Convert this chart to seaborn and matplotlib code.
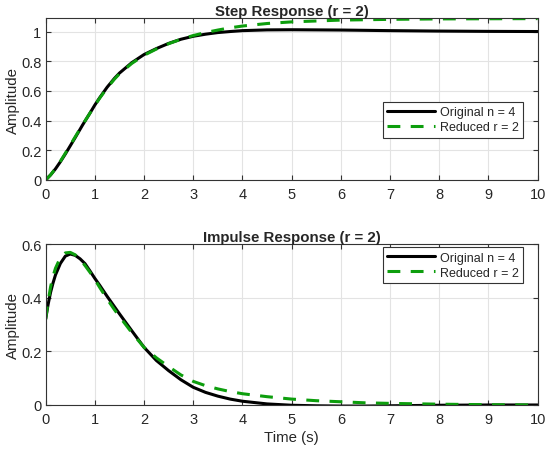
import numpy as np
import matplotlib
matplotlib.use("Agg")
import matplotlib.pyplot as plt
import seaborn as sns

# Values
t_step = [0, 0.1, 0.2, 0.3, 0.4, 0.5, 0.6, 0.75, 0.9, 1.0, 1.1, 1.25, 1.4, 1.5, 1.75, 2.0, 2.25, 2.5,
          2.75, 3.0, 3.25, 3.5, 3.75, 4.0, 4.5, 5.0, 6.0, 7.0, 8.0, 9.0, 10.0]
step_orig = [0, 0.034, 0.075, 0.123, 0.175, 0.23, 0.285, 0.37, 0.45, 0.505, 0.555, 0.625, 0.685, 0.72,
             0.79, 0.845, 0.885, 0.92, 0.948, 0.968, 0.982, 0.993, 1.0, 1.006, 1.011, 1.012, 1.01,
             1.006, 1.003, 1.001, 1.0]
step_red = [0, 0.034, 0.077, 0.126, 0.18, 0.235, 0.29, 0.372, 0.45, 0.503, 0.552, 0.62, 0.68, 0.715,
            0.785, 0.84, 0.882, 0.918, 0.948, 0.973, 0.993, 1.01, 1.025, 1.037, 1.054, 1.065, 1.077,
            1.082, 1.085, 1.086, 1.087]

t_imp = [0, 0.05, 0.1, 0.15, 0.2, 0.3, 0.4, 0.5, 0.6, 0.7, 0.8, 0.9, 1.0, 1.1, 1.25, 1.4, 1.5, 1.75,
         2.0, 2.25, 2.5, 2.75, 3.0, 3.25, 3.5, 3.75, 4.0, 4.5, 5.0, 5.5, 6.0, 6.5, 7.0, 8.0, 9.0, 10.0]
imp_orig = [0.32, 0.375, 0.42, 0.455, 0.485, 0.528, 0.555, 0.563, 0.558, 0.545, 0.527, 0.5, 0.472,
            0.446, 0.405, 0.366, 0.34, 0.277, 0.215, 0.166, 0.128, 0.094, 0.066, 0.047, 0.033, 0.022,
            0.014, 0.004, -0.001, -0.003, -0.004, -0.004, -0.003, -0.001, 0.0, 0.0]
imp_red = [0.32, 0.385, 0.44, 0.48, 0.51, 0.55, 0.567, 0.569, 0.56, 0.543, 0.52, 0.495, 0.468, 0.438,
           0.395, 0.355, 0.33, 0.27, 0.215, 0.176, 0.143, 0.112, 0.088, 0.072, 0.06, 0.05, 0.042,
           0.031, 0.022, 0.016, 0.012, 0.008, 0.006, 0.003, 0.001, 0.0]

sns.set_theme(style="whitegrid")
plt.rcParams["font.family"] = ["Liberation Sans", "DejaVu Sans"]

green = "#0d9e0d"
dash = (0, (4.2, 3.4))
fig = plt.figure(figsize=(5.5, 4.52), dpi=100)
ax1 = fig.add_axes([0.083, 0.5996, 0.8945, 0.358])
ax2 = fig.add_axes([0.083, 0.1018, 0.8945, 0.356])

def style(ax, ylim, yticks, ylabels):
    ax.set_xlim(0, 10)
    ax.set_ylim(*ylim)
    ax.set_xticks(range(0, 11))
    ax.set_yticks(yticks)
    ax.set_yticklabels(ylabels)
    ax.set_facecolor("white")
    ax.grid(True, color="#e3e3e3", linewidth=0.8)
    for s in ax.spines.values():
        s.set_color("#333333")
        s.set_linewidth(0.8)
        s.set_visible(True)
    ax.tick_params(direction="in", length=3.5, width=0.8, color="#333333",
                   top=True, right=True, bottom=True, left=True,
                   labelsize=10.5, labelcolor="#262626")
    ax.tick_params(axis="x", pad=5)
    ax.tick_params(axis="y", pad=3)
    ax.set_ylabel("Amplitude", fontsize=10.8, color="#262626", labelpad=1)

def add_legend(ax, loc, anchor):
    leg = ax.legend(loc=loc, bbox_to_anchor=anchor, frameon=True, fancybox=False,
                    edgecolor="#333333", fontsize=9, handlelength=3.8, borderpad=0.35,
                    labelspacing=0.25, handletextpad=0.4, borderaxespad=0, framealpha=1)
    leg.get_frame().set_linewidth(0.8)

sns.lineplot(x=t_step, y=step_orig, ax=ax1, color="black", linewidth=2.2, label="Original n = 4")
sns.lineplot(x=t_step, y=step_red, ax=ax1, color=green, linewidth=2.2, linestyle=dash, label="Reduced r = 2")
style(ax1, (0, 1.09), [0, 0.2, 0.4, 0.6, 0.8, 1], ["0", "0.2", "0.4", "0.6", "0.8", "1"])
ax1.set_title("Step Response (r = 2)", fontsize=10.8, fontweight="bold", pad=2)
add_legend(ax1, "center right", (0.970, 0.373))

sns.lineplot(x=t_imp, y=imp_orig, ax=ax2, color="black", linewidth=2.2, label="Original n = 4")
sns.lineplot(x=t_imp, y=imp_red, ax=ax2, color=green, linewidth=2.2, linestyle=dash, label="Reduced r = 2")
style(ax2, (0, 0.6), [0, 0.2, 0.4, 0.6], ["0", "0.2", "0.4", "0.6"])
ax2.set_title("Impulse Response (r = 2)", fontsize=10.8, fontweight="bold", pad=2)
ax2.set_xlabel("Time (s)", fontsize=10.8, color="#262626", labelpad=3)
add_legend(ax2, "upper right", (0.970, 0.981))

fig.savefig("out.png", dpi=100, facecolor="white")
